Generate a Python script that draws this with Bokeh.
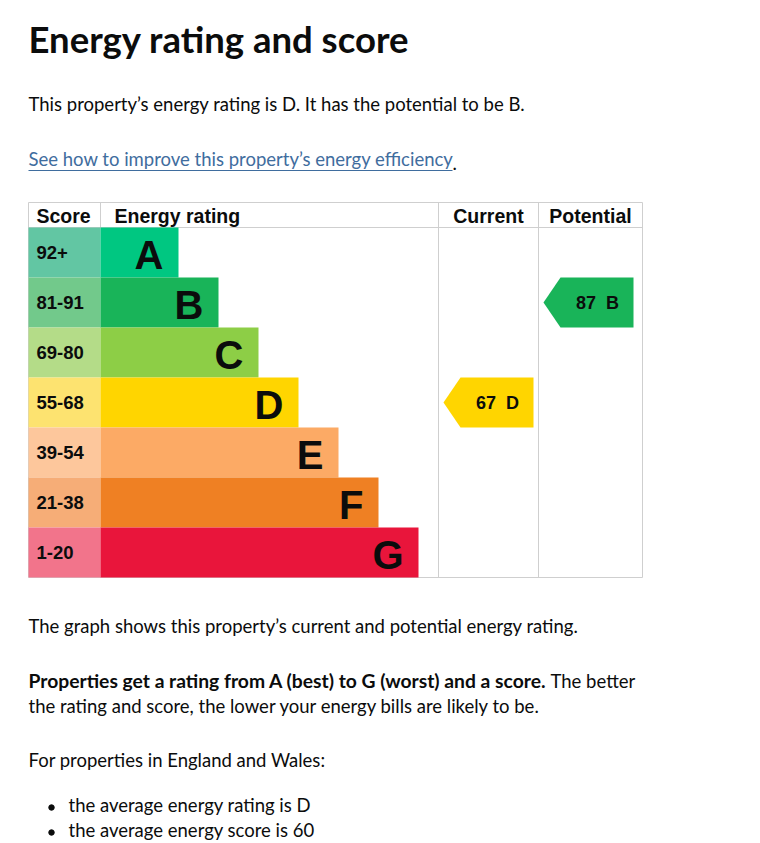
from bokeh.plotting import figure
from bokeh.models import ColumnDataSource, Range1d
from bokeh.core.properties import value
from bokeh.embed import file_html
from bokeh.resources import INLINE

# bands, best to worst
bands = ["A", "B", "C", "D", "E", "F", "G"]
score_ranges = ["92+", "81-91", "69-80", "55-68", "39-54", "21-38", "1-20"]
band_min = [92, 81, 69, 55, 39, 21, 1]
bar_colors = ["#00c781", "#19b459", "#8dce46", "#ffd500", "#fcaa65", "#ef8023", "#e9153b"]
score_colors = ["#62c6a3", "#72c98b", "#b4dc88", "#fde370", "#fdc79c", "#f6ad77", "#f2748b"]

current_score = 67
potential_score = 87

BODY = "Lato"
TABLE = "Liberation Sans"

# layout of the table, in page pixels
tx0, tx1 = 28, 642
col_rating, col_current, col_potential = 100, 438, 538
head_top, head_h, row_h = 202, 25, 50
bar_w0, bar_step = 78, 40

W, H = 760, 843
p = figure(width=W, height=H, x_range=Range1d(0, W), y_range=Range1d(H, 0),
           output_backend="svg", toolbar_location=None, min_border=0)
p.axis.visible = False
p.grid.visible = False
p.outline_line_color = None


def band_of(score):
    for i, lo in enumerate(band_min):
        if score >= lo:
            return i
    return len(bands) - 1


n = len(bands)
row_top = [head_top + head_h + i * row_h for i in range(n)]
row_bot = [t + row_h for t in row_top]
bar_right = [col_rating + bar_w0 + i * bar_step for i in range(n)]
src = ColumnDataSource(data=dict(
    band=bands, rng=score_ranges, top=row_top, bottom=row_bot,
    mid=[t + row_h / 2 for t in row_top], right=bar_right,
    letter_x=[r - 15 for r in bar_right],
    bar_color=bar_colors, score_color=score_colors,
))

# grid lines
grid = "#cfcfcf"
table_bot = row_bot[-1]
p.segment(x0=[tx0, tx0, tx0, tx0, tx1, col_rating, col_current, col_potential],
          y0=[head_top, head_top + head_h, table_bot, head_top, head_top, head_top, head_top, head_top],
          x1=[tx1, tx1, tx1, tx0, tx1, col_rating, col_current, col_potential],
          y1=[head_top, head_top + head_h, table_bot, table_bot, table_bot, head_top + head_h, table_bot, table_bot],
          line_color=grid, line_width=1)

# score cells and rating bars
p.quad(left=tx0, right=col_rating, top="top", bottom="bottom", fill_color="score_color",
       line_color=None, source=src)
p.quad(left=col_rating, right="right", top="top", bottom="bottom", fill_color="bar_color",
       line_color=None, source=src)

p.text(x=tx0 + 8, y="mid", text="rng", source=src, text_font=value(TABLE),
       text_font_style="bold", text_font_size="18.5px", text_baseline="middle", text_color="#0b0c0c")
p.text(x="letter_x", y="mid", text="band", source=src, text_font=value(TABLE),
       text_font_style="bold", text_font_size="40px", text_baseline="middle", text_align="right",
       text_color="#0b0c0c", y_offset=2)

# header
hy = head_top + head_h / 2
p.text(x=[tx0 + 8, col_rating + 14], y=[hy, hy], text=["Score", "Energy rating"],
       text_font=value(TABLE), text_font_style="bold", text_font_size="19.5px",
       text_baseline="middle", text_color="#0b0c0c", y_offset=1)
p.text(x=[(col_current + col_potential) / 2, (col_potential + tx1) / 2], y=[hy, hy],
       text=["Current", "Potential"], text_font=value(TABLE), text_font_style="bold",
       text_font_size="19.5px", text_baseline="middle", text_align="center",
       text_color="#0b0c0c", y_offset=1)

# current / potential arrows
xs, ys, cols, lx, ly, lab = [], [], [], [], [], []
for score, col_left in [(current_score, col_current), (potential_score, col_potential)]:
    b = band_of(score)
    t, bt = row_top[b], row_bot[b]
    l, r = col_left + 5, col_left + 95
    xs.append([l, l + 17, r, r, l + 17])
    ys.append([(t + bt) / 2, t, t, bt, bt])
    cols.append(bar_colors[b])
    lx.append(r - 36)
    ly.append((t + bt) / 2)
    lab.append(f"{score}\u00a0\u00a0{bands[b]}")
p.patches(xs=xs, ys=ys, fill_color=cols, line_color=None)
p.text(x=lx, y=ly, text=lab, text_font=value(TABLE), text_font_style="bold",
       text_font_size="18px", text_baseline="middle", text_align="center", text_color="#0b0c0c")

# page text
ink = "#0b0c0c"
body = "18.5px"
p.text(x=[28], y=[60], text=["Energy rating and score"], text_font=value(BODY),
       text_font_style="bold", text_font_size="36.5px", text_color=ink)
p.text(x=[28], y=[114], text=["This property\u2019s energy rating is D. It has the potential to be B."],
       text_font=value(BODY), text_font_size=body, text_color=ink)
link = "See how to improve this property\u2019s energy efficiency"
p.text(x=[28], y=[169], text=[link], text_font=value(BODY), text_font_size=body,
       text_color="#3f6d9e")
p.segment(x0=[28], y0=[170], x1=[452], y1=[170], line_color="#3f6d9e", line_width=1)
p.text(x=[452], y=[169], text=["."], text_font=value(BODY), text_font_size=body, text_color=ink)

p.text(x=[28], y=[636], text=["The graph shows this property\u2019s current and potential energy rating."],
       text_font=value(BODY), text_font_size=body, text_color=ink)
p.text(x=[28], y=[691], text=["Properties get a rating from A (best) to G (worst) and a score."],
       text_font=value(BODY), text_font_style="bold", text_font_size="19.3px", text_color=ink)
p.text(x=[550], y=[691], text=["The better"], text_font=value(BODY), text_font_size=body,
       text_color=ink)
p.text(x=[28], y=[716], text=["the rating and score, the lower your energy bills are likely to be."],
       text_font=value(BODY), text_font_size=body, text_color=ink)
p.text(x=[28], y=[770], text=["For properties in England and Wales:"],
       text_font=value(BODY), text_font_size=body, text_color=ink)
bullets = ["the average energy rating is D", "the average energy score is 60"]
p.scatter(x=[51, 51], y=[807, 832], size=5.5, color=ink)
p.text(x=[68, 68], y=[815, 840], text=bullets, text_font=value(BODY), text_font_size=body,
       text_color=ink)

open("out.html", "w").write(file_html(p, INLINE))
